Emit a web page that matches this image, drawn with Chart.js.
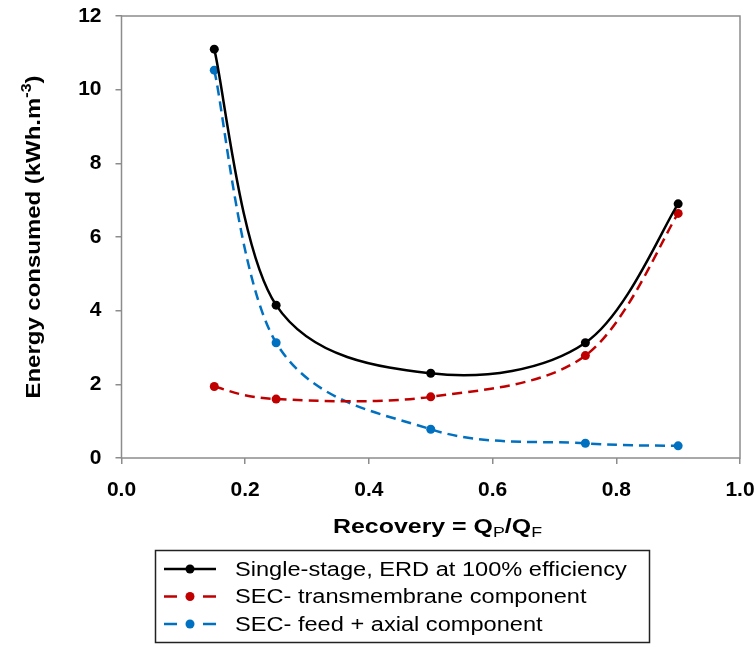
<!DOCTYPE html>
<html>
<head>
<meta charset="utf-8">
<script src="https://cdn.jsdelivr.net/npm/chart.js@4"></script>
<style>
  html, body { margin: 0; padding: 0; background: #fff; }
  #wrap { width: 756px; height: 645px; }
</style>
</head>
<body>
<div id="wrap"><canvas id="c" width="756" height="645"></canvas></div>
<script>
// ---- Data ----
const recovery = [0.15, 0.25, 0.5, 0.75, 0.9];
const singleStage = [11.1, 4.15, 2.3, 3.13, 6.9];
const transmembrane = [1.94, 1.6, 1.66, 2.78, 6.64];
const feedAxial = [10.53, 3.13, 0.78, 0.40, 0.33];
const xTicks = [0, 0.2, 0.4, 0.6, 0.8, 1.0];
const yTicks = [0, 2, 4, 6, 8, 10, 12];
const seriesNames = [
  'Single-stage, ERD at 100% efficiency',
  'SEC- transmembrane component',
  'SEC- feed + axial component'
];

const FONT = '"Liberation Sans", Arial, sans-serif';
const toPts = ys => recovery.map((x, i) => ({ x: x, y: ys[i] }));

const BLACK = '#000000', RED = '#C00000', BLUE = '#0070C0';

const datasets = [
  { label: seriesNames[0], data: toPts(singleStage), borderColor: BLACK, backgroundColor: BLACK,
    borderWidth: 2.5, pointRadius: 4.5, tension: 0.4, dash: [] },
  { label: seriesNames[1], data: toPts(transmembrane), borderColor: RED, backgroundColor: RED,
    borderWidth: 2.5, pointRadius: 4.5, tension: 0.4, borderDash: [10, 6], dash: [10, 6] },
  { label: seriesNames[2], data: toPts(feedAxial), borderColor: BLUE, backgroundColor: BLUE,
    borderWidth: 2.5, pointRadius: 4.5, tension: 0.4, borderDash: [10, 6], dash: [10, 6] }
];
datasets.forEach(d => { d.pointBorderWidth = 0; d.pointHoverRadius = 4.5; });

// Spreadsheet-style smoothing: Catmull-Rom control points (1/6 rule) in pixel space
const smoothPlugin = {
  id: 'smooth',
  beforeDatasetDraw(chart, args) {
    const meta = args.meta;
    const line = meta.dataset;
    if (!line) return;
    line.updateControlPoints(chart.chartArea, 'x');
    const pts = meta.data;
    const n = pts.length;
    for (let i = 0; i < n; i++) {
      const p = pts[i];
      const prev = pts[Math.max(i - 1, 0)];
      const next = pts[Math.min(i + 1, n - 1)];
      const dx = (next.x - prev.x) / 6, dy = (next.y - prev.y) / 6;
      p.cp1x = p.x - dx; p.cp1y = p.y - dy;
      p.cp2x = p.x + dx; p.cp2y = p.y + dy;
    }
    line._path = undefined;
  }
};

// Frame around plot area
const framePlugin = {
  id: 'frame',
  beforeDatasetsDraw(chart) {
    const a = chart.chartArea, ctx = chart.ctx;
    ctx.save();
    ctx.strokeStyle = '#8c8c8c';
    ctx.lineWidth = 1.5;
    ctx.strokeRect(a.left, a.top, a.right - a.left, a.bottom - a.top);
    ctx.restore();
  }
};

// Draw rich text segments (with sub/superscripts), stretched to target width
function drawSegments(ctx, segs, cx, cy, targetW) {
  let w = 0;
  segs.forEach(s => { ctx.font = s.font; s.w = ctx.measureText(s.t).width; w += s.w; });
  const k = targetW ? targetW / w : 1;
  ctx.save();
  ctx.translate(cx, cy);
  ctx.scale(k, 1);
  let x = -w / 2;
  ctx.textBaseline = 'alphabetic';
  ctx.textAlign = 'left';
  segs.forEach(s => { ctx.font = s.font; ctx.fillText(s.t, x, s.dy || 0); x += s.w; });
  ctx.restore();
}

const titlesPlugin = {
  id: 'titles',
  afterDraw(chart) {
    const ctx = chart.ctx, a = chart.chartArea;
    ctx.save();
    ctx.fillStyle = '#000';
    // X title
    const xb = 'bold 21px ' + FONT, xs = '15px ' + FONT;
    drawSegments(ctx, [
      { t: 'Recovery = Q', font: xb },
      { t: 'P', font: xs, dy: 4 },
      { t: '/Q', font: xb },
      { t: 'F', font: xs, dy: 4 }
    ], 437.5, 533, 209);
    // Y title
    ctx.save();
    ctx.translate(40, (a.top + a.bottom) / 2);
    ctx.rotate(-Math.PI / 2);
    const yb = 'bold 21px ' + FONT, ys = 'bold 14px ' + FONT;
    drawSegments(ctx, [
      { t: 'Energy consumed (kWh.m', font: yb },
      { t: '-3', font: ys, dy: -9 },
      { t: ')', font: yb }
    ], 0, 0, 323);
    ctx.restore();
    ctx.restore();
  }
};

// Boxed legend below the plot
const legendPlugin = {
  id: 'boxLegend',
  afterDraw(chart) {
    const ctx = chart.ctx;
    const bx = 155.5, by = 550.5, bw = 494, bh = 92;
    ctx.save();
    ctx.strokeStyle = '#222';
    ctx.lineWidth = 1.5;
    ctx.strokeRect(bx, by, bw, bh);
    const rows = [569, 596.5, 624];
    chart.data.datasets.forEach((ds, i) => {
      const y = rows[i];
      ctx.strokeStyle = ds.borderColor;
      ctx.lineWidth = 2.5;
      ctx.beginPath();
      if (ds.dash.length) {
        ctx.moveTo(164, y); ctx.lineTo(177, y);
        ctx.moveTo(203, y); ctx.lineTo(216, y);
      } else {
        ctx.moveTo(164, y); ctx.lineTo(216, y);
      }
      ctx.stroke();
      ctx.fillStyle = ds.backgroundColor;
      ctx.beginPath();
      ctx.arc(190, y, 4.5, 0, Math.PI * 2);
      ctx.fill();
      ctx.fillStyle = '#000';
      ctx.save();
      ctx.translate(235, y);
      ctx.scale(1.18, 1);
      ctx.font = '20px ' + FONT;
      ctx.textBaseline = 'middle';
      ctx.textAlign = 'left';
      ctx.fillText(ds.label, 0, 1);
      ctx.restore();
    });
    ctx.restore();
  }
};

new Chart(document.getElementById('c'), {
  type: 'line',
  data: { datasets: datasets },
  options: {
    responsive: false,
    animation: false,
    layout: { padding: { left: 0, top: 16, right: 16, bottom: 147 } },
    plugins: { legend: { display: false }, tooltip: { enabled: false } },
    scales: {
      x: {
        type: 'linear', min: 0, max: 1,
        afterBuildTicks: s => { s.ticks = xTicks.map(v => ({ value: v })); },
        afterFit: s => { s.height = 40; s.paddingLeft = 0; s.paddingRight = 0; },
        grid: { display: true, drawOnChartArea: false, drawTicks: true, tickLength: 6, color: '#8c8c8c', lineWidth: 1.5 },
        border: { display: false },
        ticks: { color: '#000', padding: 14, font: { family: FONT, size: 21, weight: 'bold' },
                 maxRotation: 0, autoSkip: false, callback: v => v.toFixed(1) }
      },
      y: {
        type: 'linear', min: 0, max: 12,
        afterBuildTicks: s => { s.ticks = yTicks.map(v => ({ value: v })); },
        afterFit: s => { s.width = 121.5; s.paddingTop = 0; s.paddingBottom = 0; },
        grid: { display: true, drawOnChartArea: false, drawTicks: true, tickLength: 6, color: '#8c8c8c', lineWidth: 1.5 },
        border: { display: false },
        ticks: { color: '#000', padding: 14, font: { family: FONT, size: 21, weight: 'bold' },
                 autoSkip: false, callback: v => String(v) }
      }
    }
  },
  plugins: [smoothPlugin, framePlugin, titlesPlugin, legendPlugin]
});
</script>
</body>
</html>
